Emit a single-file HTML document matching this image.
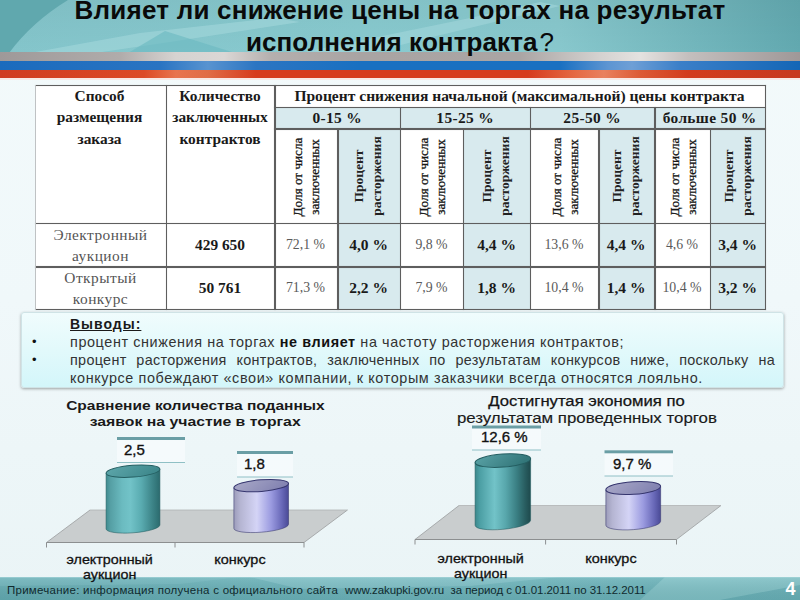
<!DOCTYPE html>
<html><head><meta charset="utf-8">
<style>
*{margin:0;padding:0;box-sizing:border-box}
html,body{width:800px;height:600px;overflow:hidden;background:linear-gradient(180deg,#f3fafb 0%,#f0f8fa 50%,#eaf4f6 100%)}
body{position:relative;font-family:"Liberation Sans",sans-serif;color:#111}
.a{position:absolute;white-space:nowrap}
#hdr{position:absolute;left:0;top:0;width:800px;height:53px}
.st{position:absolute;left:0;width:800px}
.serif{font-family:"Liberation Serif",serif}
.tl{position:absolute;background:#5e5e5e;box-shadow:0 0 0.8px rgba(80,80,80,0.55)}
.fill{position:absolute}
.tc{position:absolute;text-align:center;font-family:"Liberation Serif",serif;color:#1a1a1a}
.rot{position:absolute;font-family:"Liberation Serif",serif;color:#222;transform-origin:0 0;transform:rotate(-90deg);white-space:nowrap;text-align:center}
</style></head><body>

<!-- header -->
<svg id="hdr" width="800" height="53" viewBox="0 0 800 53">
<defs>
<linearGradient id="hg" x1="0" y1="0" x2="1" y2="0">
<stop offset="0" stop-color="#84c5cb"/>
<stop offset="0.45" stop-color="#88cacf"/>
<stop offset="0.7" stop-color="#88c8cd"/>
<stop offset="1" stop-color="#62a9b0"/>
</linearGradient>
<linearGradient id="hv" x1="0" y1="0" x2="0" y2="1">
<stop offset="0" stop-color="#000" stop-opacity="0.04"/>
<stop offset="1" stop-color="#000" stop-opacity="0"/>
</linearGradient>
</defs>
<rect width="800" height="53" fill="url(#hg)"/>
<rect width="800" height="53" fill="url(#hv)"/>
<path d="M0 0 L68 0 Q32 22 9 53 L0 53 Z" fill="#60a8ae"/>
<path d="M30 53 L140 33 L275 18 L300 22 L170 42 L95 53 Z" fill="#a6d8dc" opacity="0.55"/>
<path d="M128 53 L165 31 L235 53 Z" fill="#6dbac2" opacity="0.65"/>
<path d="M300 53 L470 18 L540 2 L560 6 L420 40 L370 53 Z" fill="#aadcdf" opacity="0.45"/>
</svg>

<div class="st" style="top:52px;height:9px;background:linear-gradient(90deg,#9e9999 0%,#b0acab 15%,#d6d3d1 22%,#dad7d5 28%,#b4afae 34%,#a9a4a3 45%,#aaa5a4 65%,#d4d2d0 75%,#e4e2e0 80%,#c4bfbe 86%,#9f9898 100%)"></div>
<div class="st" style="top:61px;height:9px;background:linear-gradient(90deg,#1b6bbd 0%,#2a74c2 20%,#5893d0 26%,#2c75c2 32%,#1970c1 45%,#1a70c1 70%,#5d95d2 76%,#6e9fd6 79%,#3b7fc8 85%,#1466b6 100%)"></div>
<div class="st" style="top:70px;height:8px;background:linear-gradient(90deg,#cf3b21 0%,#dc4a26 18%,#e8744e 22%,#e06c46 26%,#d63b1d 32%,#d63b1d 66%,#e56a45 72%,#e9805e 75.5%,#dc5a35 80%,#d23b1e 86%,#c7391f 100%)"></div>
<div class="st" style="top:78px;height:2px;background:#f7e9e6"></div>

<div class="a" style="left:0;top:-6px;width:800px;text-align:center;font-weight:bold;font-size:26px;line-height:32.5px;color:#0a0a0a;letter-spacing:0.22px">Влияет ли снижение цены на торгах на результат</div>
<div class="a" style="left:0;top:25.5px;width:800px;text-align:center;font-weight:bold;font-size:26px;line-height:32.5px;color:#0a0a0a;letter-spacing:0.1px">исполнения контракта<span style="font-weight:normal;padding-left:2px">?</span></div>

<!-- table -->
<div class="fill" style="left:35px;top:85px;width:730px;height:224px;background:#fff"></div>
<div class="fill" style="left:274px;top:107px;width:491px;height:22px;background:#d8eaee"></div>
<div class="fill" style="left:337px;top:129px;width:63px;height:180px;background:#d8eaee"></div>
<div class="fill" style="left:463px;top:129px;width:67px;height:180px;background:#d8eaee"></div>
<div class="fill" style="left:598px;top:129px;width:57px;height:180px;background:#d8eaee"></div>
<div class="fill" style="left:710px;top:129px;width:55px;height:180px;background:#d8eaee"></div>

<!-- horizontal lines -->
<div class="tl" style="left:35px;top:84.5px;width:731px;height:1.5px"></div>
<div class="tl" style="left:274px;top:106.5px;width:492px;height:1.5px"></div>
<div class="tl" style="left:274px;top:128px;width:492px;height:1.5px"></div>
<div class="tl" style="left:35px;top:222.5px;width:731px;height:1.5px"></div>
<div class="tl" style="left:35px;top:266px;width:731px;height:1.5px"></div>
<div class="tl" style="left:35px;top:308.5px;width:731px;height:1.5px"></div>
<!-- vertical lines -->
<div class="tl" style="left:34.5px;top:85px;width:1.5px;height:225px;background:#bfc2c4;box-shadow:none"></div>
<div class="tl" style="left:165.5px;top:85px;width:1.5px;height:225px"></div>
<div class="tl" style="left:274px;top:85px;width:1.5px;height:225px"></div>
<div class="tl" style="left:337px;top:129px;width:1.5px;height:181px"></div>
<div class="tl" style="left:399.5px;top:107px;width:1.5px;height:203px"></div>
<div class="tl" style="left:462.5px;top:129px;width:1.5px;height:181px"></div>
<div class="tl" style="left:529.5px;top:107px;width:1.5px;height:203px"></div>
<div class="tl" style="left:598px;top:129px;width:1.5px;height:181px"></div>
<div class="tl" style="left:654px;top:107px;width:1.5px;height:203px"></div>
<div class="tl" style="left:709.5px;top:129px;width:1.5px;height:181px"></div>
<div class="tl" style="left:764.5px;top:85px;width:1.5px;height:225px"></div>

<!-- header text -->
<div class="tc" style="left:34px;top:85px;width:131px;font-weight:bold;font-size:15.4px;line-height:21.4px">Способ<br>размещения<br>заказа</div>
<div class="tc" style="left:166px;top:85px;width:108px;font-weight:bold;font-size:15.4px;line-height:21.4px">Количество<br>заключенных<br>контрактов</div>
<div class="tc" style="left:274px;top:85.3px;width:491px;font-weight:bold;font-size:15.55px;line-height:21px">Процент снижения начальной (максимальной) цены контракта</div>
<div class="tc" style="left:274px;top:106.5px;width:126px;font-weight:bold;font-size:15.4px;line-height:21px;letter-spacing:0.35px;text-indent:0.35px">0-15 %</div>
<div class="tc" style="left:400px;top:106.5px;width:130px;font-weight:bold;font-size:15.4px;line-height:21px;letter-spacing:0.35px;text-indent:0.35px">15-25 %</div>
<div class="tc" style="left:530px;top:106.5px;width:124px;font-weight:bold;font-size:15.4px;line-height:21px;letter-spacing:0.35px;text-indent:0.35px">25-50 %</div>
<div class="tc" style="left:654px;top:106.5px;width:111px;font-weight:bold;font-size:15.4px;line-height:21px;letter-spacing:0.35px;text-indent:0.35px">больше 50 %</div>

<!-- rotated headers -->
<div class="rot" style="left:289.5px;top:217px;width:80px;font-size:13.2px;line-height:16.5px;color:#151515;-webkit-text-stroke:0.3px #151515">Доля от числа<br>заключенных</div>
<div class="rot" style="left:350px;top:216px;width:80px;font-size:13.5px;line-height:17.5px;font-weight:bold">Процент<br>расторжения</div>
<div class="rot" style="left:415.5px;top:217px;width:80px;font-size:13.2px;line-height:16.5px;color:#151515;-webkit-text-stroke:0.3px #151515">Доля от числа<br>заключенных</div>
<div class="rot" style="left:478px;top:216px;width:80px;font-size:13.5px;line-height:17.5px;font-weight:bold">Процент<br>расторжения</div>
<div class="rot" style="left:548.5px;top:217px;width:80px;font-size:13.2px;line-height:16.5px;color:#151515;-webkit-text-stroke:0.3px #151515">Доля от числа<br>заключенных</div>
<div class="rot" style="left:608px;top:216px;width:80px;font-size:13.5px;line-height:17.5px;font-weight:bold">Процент<br>расторжения</div>
<div class="rot" style="left:666.5px;top:217px;width:80px;font-size:13.2px;line-height:16.5px;color:#151515;-webkit-text-stroke:0.3px #151515">Доля от числа<br>заключенных</div>
<div class="rot" style="left:720px;top:216px;width:80px;font-size:13.5px;line-height:17.5px;font-weight:bold">Процент<br>расторжения</div>

<!-- data rows -->
<div class="tc" style="left:35px;top:223.5px;width:131px;font-size:15.4px;line-height:21px;color:#555;letter-spacing:0.45px">Электронный<br>аукцион</div>
<div class="tc" style="left:35px;top:266.5px;width:131px;font-size:15.4px;line-height:21px;color:#555;letter-spacing:0.45px">Открытый<br>конкурс</div>
<div class="tc" style="left:166px;top:234px;width:108px;font-weight:bold;font-size:15.4px;line-height:21px">429 650</div>
<div class="tc" style="left:166px;top:277px;width:108px;font-weight:bold;font-size:15.4px;line-height:21px">50 761</div>

<div class="tc" style="left:274px;top:234px;width:63px;font-size:13.8px;line-height:21px;color:#5a5a5a">72,1 %</div>
<div class="tc" style="left:337px;top:234px;width:63px;font-weight:bold;font-size:15.5px;line-height:21px">4,0 %</div>
<div class="tc" style="left:400px;top:234px;width:63px;font-size:13.8px;line-height:21px;color:#5a5a5a">9,8 %</div>
<div class="tc" style="left:463px;top:234px;width:67px;font-weight:bold;font-size:15.5px;line-height:21px">4,4 %</div>
<div class="tc" style="left:530px;top:234px;width:68px;font-size:13.8px;line-height:21px;color:#5a5a5a">13,6 %</div>
<div class="tc" style="left:598px;top:234px;width:56px;font-weight:bold;font-size:15.5px;line-height:21px">4,4 %</div>
<div class="tc" style="left:654px;top:234px;width:56px;font-size:13.8px;line-height:21px;color:#5a5a5a">4,6 %</div>
<div class="tc" style="left:710px;top:234px;width:55px;font-weight:bold;font-size:15.5px;line-height:21px">3,4 %</div>

<div class="tc" style="left:274px;top:277px;width:63px;font-size:13.8px;line-height:21px;color:#5a5a5a">71,3 %</div>
<div class="tc" style="left:337px;top:277px;width:63px;font-weight:bold;font-size:15.5px;line-height:21px">2,2 %</div>
<div class="tc" style="left:400px;top:277px;width:63px;font-size:13.8px;line-height:21px;color:#5a5a5a">7,9 %</div>
<div class="tc" style="left:463px;top:277px;width:67px;font-weight:bold;font-size:15.5px;line-height:21px">1,8 %</div>
<div class="tc" style="left:530px;top:277px;width:68px;font-size:13.8px;line-height:21px;color:#5a5a5a">10,4 %</div>
<div class="tc" style="left:598px;top:277px;width:56px;font-weight:bold;font-size:15.5px;line-height:21px">1,4 %</div>
<div class="tc" style="left:654px;top:277px;width:56px;font-size:13.8px;line-height:21px;color:#5a5a5a">10,4 %</div>
<div class="tc" style="left:710px;top:277px;width:55px;font-weight:bold;font-size:15.5px;line-height:21px">3,2 %</div>

<!-- conclusions box -->
<div style="position:absolute;left:21px;top:312px;width:763px;height:76px;border-radius:3px;background:linear-gradient(180deg,#f0fcfd 0%,#e2f9fb 50%,#d3f6fa 100%);box-shadow:0 1px 3px rgba(0,0,0,0.35);border:1px solid #cfe3e6"></div>
<div class="a" style="left:70px;top:315px;font-weight:bold;font-size:14px;line-height:18px;color:#1a1a1a;text-decoration:underline;letter-spacing:1px">Выводы:</div>
<div class="a" style="left:32px;top:333px;font-size:13px;line-height:18px">•</div>
<div class="a" style="left:32px;top:351px;font-size:13px;line-height:18px">•</div>
<div class="a" style="left:70px;top:333px;font-size:14.4px;line-height:18px;color:#333;letter-spacing:0.6px">процент снижения на торгах <b style="color:#111">не влияет</b> на частоту расторжения контрактов;</div>
<div class="a" style="left:70px;top:351px;width:705px;font-size:14.4px;line-height:18px;color:#333;text-align:justify;text-align-last:justify;letter-spacing:0.3px">процент расторжения контрактов, заключенных по результатам конкурсов ниже, поскольку на</div>
<div class="a" style="left:70px;top:368.5px;font-size:14.4px;line-height:18px;color:#333;letter-spacing:0.61px">конкурсе побеждают «свои» компании, к которым заказчики всегда относятся лояльно.</div>

<!-- FOOTER START -->
<svg style="position:absolute;left:0;top:577px" width="800" height="23" viewBox="0 0 800 23">
<defs><linearGradient id="fg" x1="0" y1="0" x2="1" y2="0"><stop offset="0" stop-color="#63abb2"/><stop offset="0.5" stop-color="#6cb4bb"/><stop offset="0.8" stop-color="#6ab2b9"/><stop offset="1" stop-color="#68b0b7"/></linearGradient>
<linearGradient id="fv" x1="0" y1="0" x2="0" y2="1"><stop offset="0" stop-color="#fff" stop-opacity="0.12"/><stop offset="1" stop-color="#000" stop-opacity="0.06"/></linearGradient></defs>
<rect width="800" height="23" fill="url(#fg)"/>
<path d="M665 0 L800 0 L800 8 L720 23 L640 23 Z" fill="#92cdd2" opacity="0.55"/>
<path d="M250 0 L560 0 L470 9 L300 12 Z" fill="#92cdd2" opacity="0.45"/>
<path d="M0 0 L240 0 L180 7 L0 9 Z" fill="#7bbdc3" opacity="0.45"/>
<rect width="800" height="23" fill="url(#fv)"/>
<rect width="800" height="1" fill="#a5d4d8" opacity="0.6"/>
</svg>
<div class="a" style="left:7px;top:584px;font-size:11.5px;line-height:13px;color:#102a2e;letter-spacing:0.26px">Примечание: информация получена с официального сайта</div><div class="a" style="left:345px;top:584px;font-size:11.5px;line-height:13px;color:#102a2e;letter-spacing:-0.1px">www.zakupki.gov.ru</div><div class="a" style="left:450.5px;top:584px;font-size:11.5px;line-height:13px;color:#102a2e;letter-spacing:-0.07px">за период с 01.01.2011 по 31.12.2011</div>
<div class="a" style="left:785.5px;top:580.2px;font-weight:bold;font-size:18px;line-height:18px;color:#fff">4</div>
<!-- FOOTER END -->
<!-- CHARTS START -->
<svg style="position:absolute;left:0;top:0" width="800" height="600" viewBox="0 0 800 600"><defs>
<linearGradient id="tealB" x1="0" y1="0" x2="1" y2="0">
<stop offset="0" stop-color="#3f8b8f"/><stop offset="0.08" stop-color="#559fa4"/><stop offset="0.3" stop-color="#6bbbc0"/><stop offset="0.45" stop-color="#72c3c8"/><stop offset="0.65" stop-color="#5aacb1"/><stop offset="0.85" stop-color="#3e868a"/><stop offset="1" stop-color="#2b6b6e"/>
</linearGradient>
<linearGradient id="teal2B" x1="0" y1="0" x2="1" y2="0">
<stop offset="0" stop-color="#3b878b"/><stop offset="0.08" stop-color="#4b9ea3"/><stop offset="0.35" stop-color="#72c3c8"/><stop offset="0.55" stop-color="#58a7ac"/><stop offset="0.75" stop-color="#3a7f83"/><stop offset="0.92" stop-color="#26595c"/><stop offset="1" stop-color="#1e4a4d"/>
</linearGradient>
<linearGradient id="tealT" x1="0" y1="0" x2="1" y2="0.3">
<stop offset="0" stop-color="#5ea7ab"/><stop offset="1" stop-color="#3f898d"/>
</linearGradient>
<linearGradient id="teal2T" x1="0" y1="0" x2="1" y2="0.3">
<stop offset="0" stop-color="#5aa3a7"/><stop offset="1" stop-color="#33777a"/>
</linearGradient>
<linearGradient id="purpB" x1="0" y1="0" x2="1" y2="0">
<stop offset="0" stop-color="#9c9cba"/><stop offset="0.12" stop-color="#b5b5d2"/><stop offset="0.42" stop-color="#d4d4f6"/><stop offset="0.68" stop-color="#9b9be0"/><stop offset="0.88" stop-color="#6868b8"/><stop offset="1" stop-color="#4a4a96"/>
</linearGradient>
<linearGradient id="purpT" x1="0" y1="0" x2="1" y2="0.3">
<stop offset="0" stop-color="#aaaac8"/><stop offset="1" stop-color="#8484b2"/>
</linearGradient>
</defs><path d="M90 510 L347.5 510 L304 542.5 L46.5 542.5 Z" fill="#c9cdce"/><path d="M46.5 542.5 L90 510 M347.5 510 L304 542.5" stroke="#9a9d9e" stroke-width="0.8" fill="none"/><path d="M90 510 L347.5 510" stroke="#b0b3b4" stroke-width="0.8"/><path d="M46.5 542.5 L304 542.5" stroke="#8c8f90" stroke-width="1.2"/><path d="M46.5 542.5 L46.5 547.5" stroke="#8c8f90" stroke-width="1"/><path d="M175 542.5 L175 547.5" stroke="#8c8f90" stroke-width="1"/><path d="M304 542.5 L304 547.5" stroke="#8c8f90" stroke-width="1"/><path d="M459 505.5 L721 505.5 L676.5 539.5 L415 539.5 Z" fill="#c9cdce"/><path d="M415 539.5 L459 505.5 M721 505.5 L676.5 539.5" stroke="#9a9d9e" stroke-width="0.8" fill="none"/><path d="M459 505.5 L721 505.5" stroke="#b0b3b4" stroke-width="0.8"/><path d="M415 539.5 L676.5 539.5" stroke="#8c8f90" stroke-width="1.2"/><path d="M415 539.5 L415 544.5" stroke="#8c8f90" stroke-width="1"/><path d="M545.6 539.5 L545.6 544.5" stroke="#8c8f90" stroke-width="1"/><path d="M676.5 539.5 L676.5 544.5" stroke="#8c8f90" stroke-width="1"/><rect x="117" y="437" width="68" height="25.5" fill="#f8fcfd" opacity="0.7"/><rect x="117" y="437" width="68" height="3" fill="#6a9ea5"/><rect x="117" y="462.0" width="68" height="1" fill="#8fc0c5"/><text x="124" y="455" font-family="Liberation Sans" font-size="15" fill="#111" stroke="#111" stroke-width="0.35">2,5</text><rect x="237" y="451" width="56" height="26" fill="#f8fcfd" opacity="0.7"/><rect x="237" y="451" width="56" height="3" fill="#6a9ea5"/><rect x="237" y="476.5" width="56" height="1" fill="#8fc0c5"/><text x="244" y="469" font-family="Liberation Sans" font-size="15" fill="#111" stroke="#111" stroke-width="0.35">1,8</text><rect x="472" y="425.5" width="69" height="24.5" fill="#f8fcfd" opacity="0.7"/><rect x="472" y="425.5" width="69" height="3" fill="#6a9ea5"/><rect x="472" y="449.5" width="69" height="1" fill="#8fc0c5"/><text x="481" y="441.5" font-family="Liberation Sans" font-size="15" fill="#111" stroke="#111" stroke-width="0.35">12,6 %</text><rect x="604.5" y="450.3" width="68.5" height="25.69999999999999" fill="#f8fcfd" opacity="0.7"/><rect x="604.5" y="450.3" width="68.5" height="3" fill="#6a9ea5"/><rect x="604.5" y="475.5" width="68.5" height="1" fill="#8fc0c5"/><text x="613" y="468.5" font-family="Liberation Sans" font-size="15" fill="#111" stroke="#111" stroke-width="0.35">9,7 %</text><path d="M106.08 473.17 L106.08 528.97 A27 5.9 -4.4 0 0 159.92 525.03 L159.92 469.23 Z" fill="url(#tealB)" stroke="#245e61" stroke-width="0.7" stroke-opacity="0.8"/><ellipse cx="133" cy="471.2" rx="27" ry="5.9" transform="rotate(-4.4 133 471.2)" fill="url(#tealT)" stroke="#245e61" stroke-width="1"/><path d="M233.89 487.74 L233.88 528.45 A27.4 5.8 -4.5 0 0 288.52 524.35 L288.51 483.46 Z" fill="url(#purpB)" stroke="#35356e" stroke-width="0.7" stroke-opacity="0.8"/><ellipse cx="261.2" cy="485.6" rx="27.4" ry="5.8" transform="rotate(-4.7 261.2 485.6)" fill="url(#purpT)" stroke="#35356e" stroke-width="1"/><path d="M475.07 462.53 L475.12 525.32 A27.85 6.5 -5.5 0 0 530.58 520.28 L530.63 458.67 Z" fill="url(#teal2B)" stroke="#245e61" stroke-width="0.7" stroke-opacity="0.8"/><ellipse cx="502.85" cy="460.6" rx="27.85" ry="6.5" transform="rotate(-4.2 502.85 460.6)" fill="url(#teal2T)" stroke="#245e61" stroke-width="1"/><path d="M605.86 489.77 L605.87 525.20 A27.45 6.35 -4.3 0 0 660.63 521.30 L660.64 486.23 Z" fill="url(#purpB)" stroke="#35356e" stroke-width="0.7" stroke-opacity="0.8"/><ellipse cx="633.25" cy="488.0" rx="27.45" ry="6.35" transform="rotate(-3.9 633.25 488.0)" fill="url(#purpT)" stroke="#35356e" stroke-width="1"/></svg>
<div class="a" style="left:0;top:398px;width:390px;text-align:center;font-weight:bold;font-size:13.5px;line-height:16px;color:#1a1a1a"><span style="display:inline-block;transform:scaleX(1.15)">Сравнение количества поданных</span><br><span style="display:inline-block;transform:scaleX(1.17)">заявок на участие в торгах</span></div>
<div class="a" style="left:387px;top:392.9px;width:400px;text-align:center;font-size:14px;line-height:16px;color:#151515;-webkit-text-stroke:0.25px #151515"><span style="display:inline-block;transform:scaleX(1.19)">Достигнутая экономия по</span></div>
<div class="a" style="left:387px;top:409.7px;width:400px;text-align:center;font-size:14.5px;line-height:16px;color:#1a1a1a;-webkit-text-stroke:0.15px #1a1a1a"><span style="display:inline-block;transform:scaleX(1.162)">результатам проведенных торгов</span></div>
<div class="a" style="left:60px;top:552px;width:100px;text-align:center;font-size:13.5px;line-height:15px;color:#111;-webkit-text-stroke:0.3px #111"><span style="display:inline-block;transform:scaleX(1.06)">электронный<br>аукцион</span></div>
<div class="a" style="left:189.5px;top:552px;width:100px;text-align:center;font-size:13.5px;line-height:15px;color:#111;-webkit-text-stroke:0.3px #111"><span style="display:inline-block;transform:scaleX(1.07)">конкурс</span></div>
<div class="a" style="left:430.5px;top:551px;width:100px;text-align:center;font-size:13.5px;line-height:15px;color:#111;-webkit-text-stroke:0.3px #111"><span style="display:inline-block;transform:scaleX(1.06)">электронный<br>аукцион</span></div>
<div class="a" style="left:561px;top:551px;width:100px;text-align:center;font-size:13.5px;line-height:15px;color:#111;-webkit-text-stroke:0.3px #111"><span style="display:inline-block;transform:scaleX(1.07)">конкурс</span></div>
<!-- CHARTS END -->
</body></html>
